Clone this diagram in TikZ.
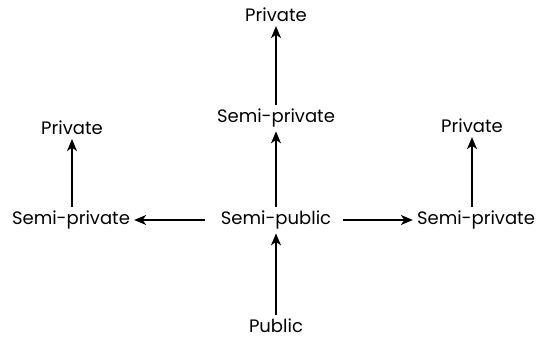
\documentclass[tikz,border=0pt]{standalone}
\usepackage{fontspec}
\setmainfont{Poppins}
\usepackage{tikz}
\usetikzlibrary{arrows.meta}

\tikzset{
  zone/.style={font=\fontsize{18}{20}\selectfont, inner sep=4pt},
  flow/.style={-{Stealth[length=12pt,width=10pt,inset=3.5pt]}, line width=1.5pt}
}

\begin{document}
\begin{tikzpicture}[x=1pt,y=-1pt]
\useasboundingbox (0,0) rectangle (536,342);
% centre column
\node[zone] (public) at (276,326) {Public};
\node[zone] (semipub) at (276,220) {Semi-public};
\node[zone] (semipriv) at (276,118) {Semi-private};
\node[zone] (priv) at (276,15) {Private};
% left branch
\node[zone] (semiprivL) at (71,220) {Semi-private};
\node[zone] (privL) at (72,128) {Private};
% right branch
\node[zone] (semiprivR) at (476,220) {Semi-private};
\node[zone] (privR) at (472,126) {Private};

\draw[flow] (public) -- (semipub);
\draw[flow] (semipub) -- (semipriv);
\draw[flow] (semipriv) -- (priv);
\draw[flow, shorten <=12pt] (semipub) -- (semiprivL);
\draw[flow, shorten <=8pt] (semipub) -- (semiprivR);
\draw[flow] (semiprivL.north -| privL) -- (privL);
\draw[flow] (semiprivR.north -| privR) -- (privR);
\end{tikzpicture}
\end{document}
